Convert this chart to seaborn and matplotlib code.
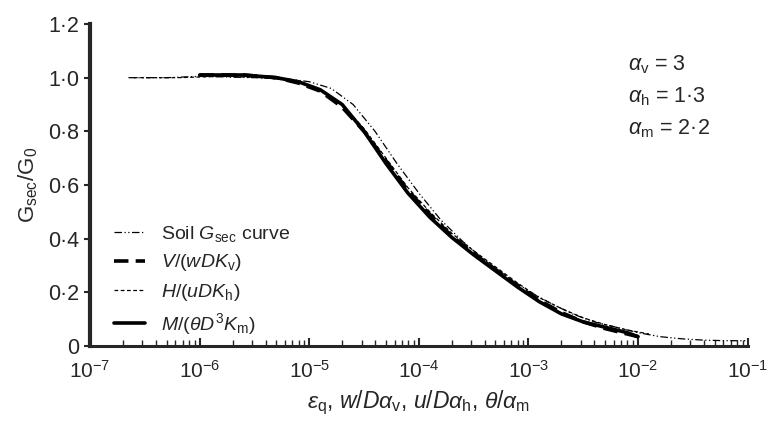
import numpy as np
import pandas as pd
import matplotlib
matplotlib.use("Agg")
import matplotlib.pyplot as plt
import seaborn as sns
from matplotlib.ticker import FixedLocator, FixedFormatter, LogLocator, NullFormatter

sns.set_style("ticks")
plt.rcParams['font.family'] = ['Liberation Sans', 'DejaVu Sans']
plt.rcParams['mathtext.fontset'] = 'custom'
plt.rcParams['mathtext.rm'] = 'Liberation Sans'
plt.rcParams['mathtext.it'] = 'Liberation Sans:italic'

# ---- data (log10 of strain / normalised displacement, G_sec/G_0) ----
soil_logx = [-6.65, -6.3, -6.0, -5.5, -5.2, -5.0, -4.8, -4.6, -4.4, -4.2, -4.0, -3.8, -3.6,
             -3.4, -3.2, -3.0, -2.8, -2.6, -2.4, -2.2, -2.0, -1.8, -1.6, -1.4, -1.2, -1.0]
soil_g = [1.00, 1.00, 1.005, 1.00, 0.995, 0.985, 0.96, 0.90, 0.80, 0.68, 0.57, 0.47, 0.39,
          0.32, 0.26, 0.205, 0.16, 0.12, 0.09, 0.07, 0.05, 0.035, 0.027, 0.022, 0.02, 0.02]

v_logx = [-6.0, -5.6, -5.3, -5.1, -4.9, -4.7, -4.5, -4.3, -4.1, -3.9, -3.7, -3.5, -3.3,
          -3.1, -2.9, -2.7, -2.5, -2.3, -2.1, -2.0]
v_g = [1.01, 1.01, 1.0, 0.98, 0.95, 0.89, 0.80, 0.69, 0.58, 0.49, 0.41, 0.345, 0.285,
       0.225, 0.17, 0.125, 0.09, 0.065, 0.045, 0.035]

h_logx = [-6.6, -6.2, -5.8, -5.4, -5.1, -4.9, -4.7, -4.5, -4.3, -4.1, -3.9, -3.7, -3.5,
          -3.3, -3.1, -2.9, -2.7, -2.5, -2.3, -2.1, -1.9]
h_g = [1.00, 1.00, 1.005, 1.0, 0.985, 0.955, 0.90, 0.81, 0.70, 0.59, 0.50, 0.42, 0.355,
       0.295, 0.235, 0.18, 0.14, 0.105, 0.08, 0.06, 0.045]

m_logx = [-6.0, -5.6, -5.3, -5.1, -4.9, -4.7, -4.5, -4.3, -4.1, -3.9, -3.7, -3.5, -3.3,
          -3.1, -2.9, -2.7, -2.5, -2.3, -2.1, -2.0]
m_g = [1.01, 1.01, 1.0, 0.985, 0.955, 0.90, 0.80, 0.68, 0.57, 0.48, 0.405, 0.34, 0.28,
       0.22, 0.165, 0.12, 0.09, 0.07, 0.05, 0.035]

series_names = ["Soil", "V", "H", "M"]
legend_labels = [r"Soil $G_{\mathrm{sec}}$ curve", r"$V/(wDK_{\mathrm{v}})$",
                 r"$H/(uDK_{\mathrm{h}})$", r"$M/(\theta D^{3}K_{\mathrm{m}})$"]

xtick_vals = [1e-7, 1e-6, 1e-5, 1e-4, 1e-3, 1e-2, 1e-1]
xtick_labels = [r"$\mathrm{10^{-7}}$", r"$\mathrm{10^{-6}}$", r"$\mathrm{10^{-5}}$",
                r"$\mathrm{10^{-4}}$", r"$\mathrm{10^{-3}}$", r"$\mathrm{10^{-2}}$",
                r"$\mathrm{10^{-1}}$"]
ytick_vals = [0, 0.2, 0.4, 0.6, 0.8, 1.0, 1.2]
ytick_labels = ["0", "0·2", "0·4", "0·6", "0·8", "1·0", "1·2"]
alpha_text = [r"$\alpha_{\mathrm{v}}$ = 3", r"$\alpha_{\mathrm{h}}$ = 1·3", r"$\alpha_{\mathrm{m}}$ = 2·2"]

frames = []
for name, lx, g in [("Soil", soil_logx, soil_g), ("V", v_logx, v_g),
                    ("H", h_logx, h_g), ("M", m_logx, m_g)]:
    frames.append(pd.DataFrame({"x": 10.0 ** np.array(lx), "g": g, "series": name}))
df = pd.concat(frames, ignore_index=True)

fig = plt.figure(figsize=(7.7, 4.21), dpi=100)
ax = fig.add_axes([0.117, 0.178, 0.854, 0.765])

styles = {
    "Soil": dict(lw=0.9, dashes=(6, 2, 1, 2, 1, 2)),
    "V": dict(lw=2.6, dashes=(4, 2)),
    "H": dict(lw=0.9, dashes=(3, 2)),
    "M": dict(lw=2.6),
}
handles = []
for name, lab in zip(series_names, legend_labels):
    sub = df[df.series == name]
    st = styles[name]
    sns.lineplot(data=sub, x="x", y="g", ax=ax, color="black", lw=st["lw"],
                 estimator=None, sort=True, label=lab)
    line = ax.lines[-1]
    if "dashes" in st:
        line.set_dashes(st["dashes"])
    handles.append(line)

ax.set_xscale("log")
ax.set_xlim(1e-7, 1e-1)
ax.set_ylim(0, 1.2)

ax.xaxis.set_major_locator(FixedLocator(xtick_vals))
ax.xaxis.set_major_formatter(FixedFormatter(xtick_labels))
ax.xaxis.set_minor_locator(LogLocator(base=10, subs=np.arange(2, 10)))
ax.xaxis.set_minor_formatter(NullFormatter())
ax.yaxis.set_major_locator(FixedLocator(ytick_vals))
ax.yaxis.set_major_formatter(FixedFormatter(ytick_labels))

ax.tick_params(axis="x", which="major", direction="in", length=6, width=1.5, labelsize=15, pad=10)
ax.tick_params(axis="x", which="minor", direction="in", length=4, width=1.0)
ax.tick_params(axis="y", which="major", direction="out", length=4, width=1.5, labelsize=15.5, pad=4)

for s in ["top", "right"]:
    ax.spines[s].set_visible(False)
ax.spines["left"].set_linewidth(3)
ax.spines["bottom"].set_linewidth(2.2)

ax.set_ylabel(r"G$_{\mathrm{sec}}$/G$_{\mathrm{0}}$", fontsize=16, labelpad=6)
ax.set_xlabel(r"$\varepsilon_{\mathrm{q}}$, $w/D\alpha_{\mathrm{v}}$, $u/D\alpha_{\mathrm{h}}$, $\theta/\alpha_{\mathrm{m}}$",
              fontsize=16.5, labelpad=5)

for i, t in enumerate(alpha_text):
    ax.text(0.818, 0.875 - i * 0.1, t, transform=ax.transAxes, fontsize=15.5, va="center", ha="left")

leg = ax.legend(handles=handles, labels=legend_labels, loc="lower left",
                bbox_to_anchor=(0.01, -0.025), frameon=False, fontsize=14,
                handlelength=1.6, handletextpad=0.8, labelspacing=0.42)

fig.savefig("out.png", dpi=100)
